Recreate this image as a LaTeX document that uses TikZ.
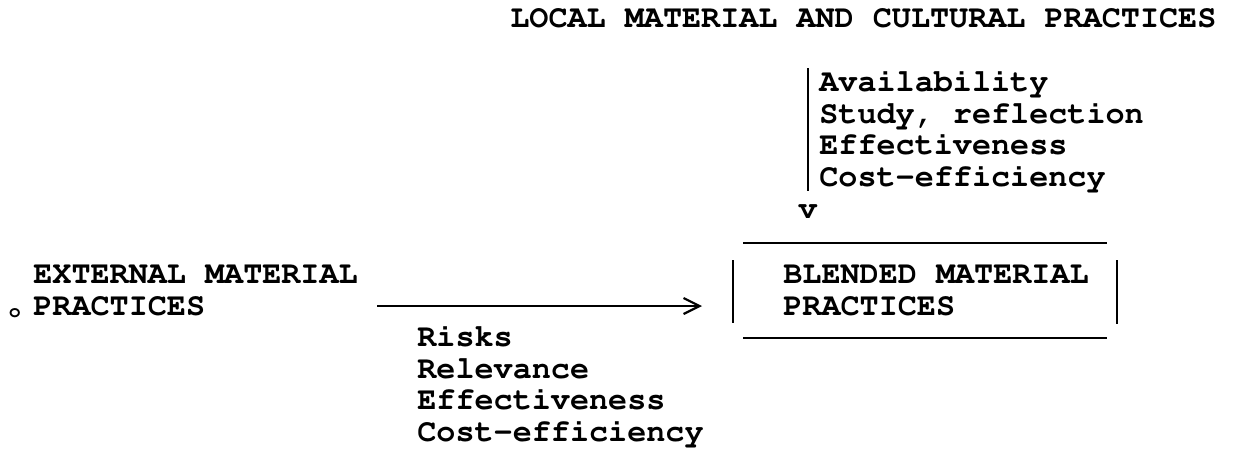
\documentclass[tikz,border=0pt]{standalone}
\usepackage[T1]{fontenc}
\usetikzlibrary{arrows.meta}

\newcommand{\typewriter}{\fontencoding{T1}\fontfamily{pcr}\bfseries}

\tikzset{
  typed/.style={font=\typewriter\fontsize{15.9}{15.75}\selectfont,
                inner sep=0pt, align=left, anchor=base west},
  rule/.style={line width=1pt},
  barb/.style={-{Straight Barb[length=8pt,width=8pt,line width=1.1pt]}},
}

\begin{document}
\begin{tikzpicture}[x=0.5pt,y=-0.5pt]
  \useasboundingbox (0,0) rectangle (1234,451);

  % several-line nodes sit on the baseline of their last line
  \node (local)
        [typed]
        at (510,27)
        {LOCAL MATERIAL AND CULTURAL PRACTICES};
  \node (localCriteria)
        [typed]
        at (819,186)
        {Availability\\Study, reflection\\Effectiveness\\Cost-efficiency};
  \node (vhead)
        [typed, anchor=base]
        at (808,218)
        {v};
  \node (external)
        [typed]
        at (33,315)
        {EXTERNAL MATERIAL\\PRACTICES};
  \node (mark)
        [font=\typewriter\fontsize{10}{10}\selectfont, inner sep=0pt, anchor=base]
        at (15,317)
        {o};
  \node (externalCriteria)
        [typed]
        at (417,441)
        {Risks\\Relevance\\Effectiveness\\Cost-efficiency};
  \node (blended)
        [typed]
        at (783,315)
        {BLENDED MATERIAL\\PRACTICES};
  \coordinate (localFoot) at (808,68);
  \coordinate (arrowTail) at (377,306);

  % typed box round the blended practices
  \draw[rule] (743,243) -- (1107,243);
  \draw[rule] (743,338) -- (1107,338);
  \draw[rule] (733,260) -- (733,323);
  \draw[rule] (1117,260) -- (1117,324);

  \draw[rule, shorten >=6pt] (localFoot) -- (vhead.north);
  \draw[rule, barb, shorten >=40.5pt] (arrowTail) -- (arrowTail -| blended.west);
\end{tikzpicture}
\end{document}
